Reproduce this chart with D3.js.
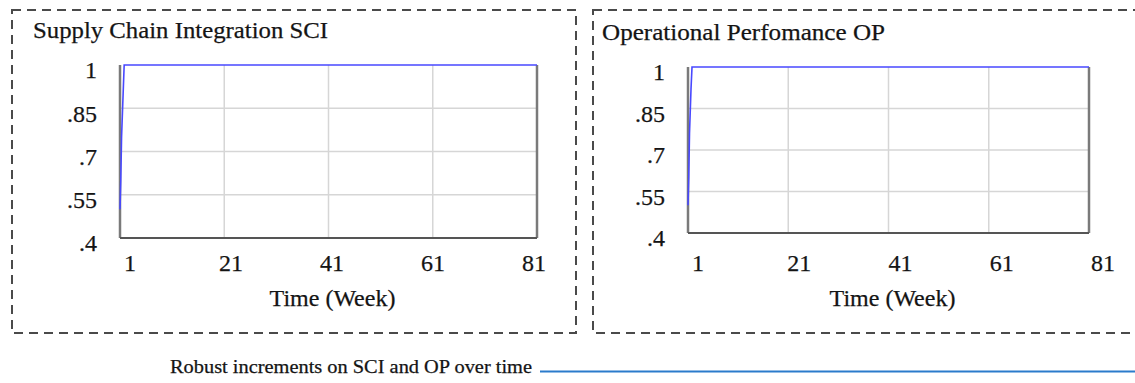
<!DOCTYPE html>
<html>
<head>
<meta charset="utf-8">
<script src="https://cdn.jsdelivr.net/npm/d3@7"></script>
<style>
  body { margin: 0; background: #fff; }
  svg text { font-family: "Liberation Serif", "Times New Roman", serif; fill: #141414; stroke: #141414; stroke-width: 0.25; }
</style>
</head>
<body>
<div id="chart"></div>
<script>
// data
var weeks = [0, 0.15, 0.3, 0.6, 0.8, 20, 40, 60, 80];
var sciValues = [0.5, 0.6, 0.75, 0.9, 1, 1, 1, 1, 1];
var opValues = [0.5, 0.6, 0.76, 0.92, 1, 1, 1, 1, 1];
var xTicks = [0, 20, 40, 60, 80];
var xTickLabels = ["1", "21", "41", "61", "81"];
var yTicks = [0.4, 0.55, 0.7, 0.85, 1];
var yTickLabels = [".4", ".55", ".7", ".85", "1"];
var titles = ["Supply Chain Integration SCI", "Operational Perfomance OP"];
var xAxisTitle = "Time (Week)";
var legendText = "Robust increments on SCI and OP over time";

var W = 1135, H = 383;

var svg = d3.select("#chart").append("svg")
    .attr("width", W)
    .attr("height", H);

// layout of the two panels
var panels = [
    { title: titles[0], values: sciValues, box: [12, 10, 576, 333], px: [120, 537], py: [65, 238], tx: 33, ty: 38, tw: 295, lab: [130, 534] },
    { title: titles[1], values: opValues, box: [593, 10, 1150, 333], px: [688, 1089], py: [67, 233], tx: 602, ty: 40, tw: 283, lab: [698, 1103] }
];

panels.forEach(function (p) {
    var g = svg.append("g");

    // dashed frame
    g.append("rect")
        .attr("x", p.box[0])
        .attr("y", p.box[1])
        .attr("width", p.box[2] - p.box[0])
        .attr("height", p.box[3] - p.box[1])
        .attr("fill", "none")
        .attr("stroke", "#4a4a4a")
        .attr("stroke-width", 2)
        .attr("stroke-dasharray", "9,6");

    g.append("text")
        .attr("x", p.tx)
        .attr("y", p.ty)
        .attr("font-size", 24)
        .attr("textLength", p.tw)
        .attr("lengthAdjust", "spacingAndGlyphs")
        .text(p.title);

    var x = d3.scaleLinear().domain([0, 80]).range(p.px);
    var y = d3.scaleLinear().domain([0.4, 1]).range([p.py[1], p.py[0]]);
    // vensim spreads the labels a little wider than the ticks
    var xLab = d3.scaleLinear().domain([0, 80]).range(p.lab);

    // grid
    g.selectAll(".vgrid")
        .data(xTicks.slice(1, -1))
        .enter().append("line")
        .attr("x1", function (d) { return x(d); })
        .attr("x2", function (d) { return x(d); })
        .attr("y1", p.py[0])
        .attr("y2", p.py[1])
        .attr("stroke", "#d6d6d6")
        .attr("stroke-width", 1.5);

    g.selectAll(".hgrid")
        .data(yTicks.slice(1, -1))
        .enter().append("line")
        .attr("x1", p.px[0])
        .attr("x2", p.px[1])
        .attr("y1", function (d) { return y(d); })
        .attr("y2", function (d) { return y(d); })
        .attr("stroke", "#d6d6d6")
        .attr("stroke-width", 1.5);

    // frame of plot
    g.append("line")
        .attr("x1", p.px[0]).attr("x2", p.px[0])
        .attr("y1", p.py[0]).attr("y2", p.py[1])
        .attr("stroke", "#7a7a7a").attr("stroke-width", 2.5);
    g.append("line")
        .attr("x1", p.px[1]).attr("x2", p.px[1])
        .attr("y1", p.py[0]).attr("y2", p.py[1])
        .attr("stroke", "#7a7a7a").attr("stroke-width", 2.5);
    g.append("line")
        .attr("x1", p.px[0]).attr("x2", p.px[1])
        .attr("y1", p.py[1]).attr("y2", p.py[1])
        .attr("stroke", "#555").attr("stroke-width", 2);

    // series
    var line = d3.line()
        .x(function (d, i) { return x(weeks[i]); })
        .y(function (d) { return y(d); });

    g.append("path")
        .datum(p.values)
        .attr("d", line)
        .attr("fill", "none")
        .attr("stroke", "#4848ff")
        .attr("stroke-width", 1.6);

    // tick labels
    g.selectAll(".ylab")
        .data(yTicks)
        .enter().append("text")
        .attr("x", p.px[0] - 23)
        .attr("y", function (d) { return y(d) + 5; })
        .attr("dy", "0.35em")
        .attr("text-anchor", "end")
        .attr("font-size", 24)
        .text(function (d, i) { return yTickLabels[i]; });

    g.selectAll(".xlab")
        .data(xTicks)
        .enter().append("text")
        .attr("x", function (d) { return xLab(d); })
        .attr("y", 263)
        .attr("dy", "0.35em")
        .attr("text-anchor", "middle")
        .attr("font-size", 24)
        .text(function (d, i) { return xTickLabels[i]; });

    g.append("text")
        .attr("x", (p.px[0] + p.px[1]) / 2 + 4)
        .attr("y", 306)
        .attr("text-anchor", "middle")
        .attr("font-size", 24)
        .text(xAxisTitle);
});

// legend at the bottom
svg.append("text")
    .attr("x", 532)
    .attr("y", 373)
    .attr("text-anchor", "end")
    .attr("font-size", 19)
    .attr("textLength", 362)
    .attr("lengthAdjust", "spacingAndGlyphs")
    .text(legendText);

svg.append("line")
    .attr("x1", 540).attr("x2", W)
    .attr("y1", 371.5).attr("y2", 371.5)
    .attr("stroke", "#2b7bcb")
    .attr("stroke-width", 2);
</script>
</body>
</html>
